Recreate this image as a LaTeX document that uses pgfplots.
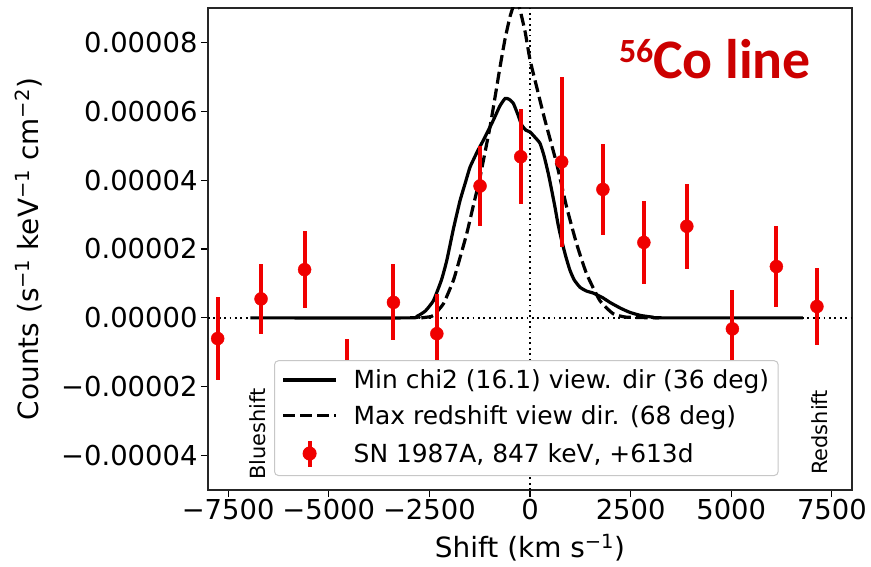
\documentclass[border=0pt]{standalone}
\usepackage{fontspec}
\setmainfont{DejaVu Sans}
\newfontfamily\titlefont{Carlito}
\usepackage{pgfplots}
\pgfplotsset{compat=1.18}
\usetikzlibrary{calc}
\definecolor{mpred}{RGB}{240,0,0}
\definecolor{titlered}{RGB}{204,0,0}
\begin{document}
\begin{tikzpicture}
\begin{axis}[
  name=ax, scale only axis, width=644bp, height=482bp,
  xmin=-8000, xmax=8000, ymin=-5e-5, ymax=9e-5,
  scaled y ticks=false, scaled x ticks=false,
  xtick={-7500,-5000,-2500,0,2500,5000,7500},
  xticklabels={−7500,−5000,−2500,0,2500,5000,7500},
  ytick={-4e-5,-2e-5,0,2e-5,4e-5,6e-5,8e-5},
  yticklabels={−0.00004,−0.00002,0.00000,0.00002,0.00004,0.00006,0.00008},
  tick align=outside, tick pos=left, major tick length=7bp,
  tick style={black, line width=1.1bp},
  axis line style={black!85, line width=1.1bp},
  tick label style={font=\fontsize{27.5}{28}\selectfont},
  xticklabel style={anchor=base, yshift=-22bp},
  label style={font=\fontsize{28}{30}\selectfont},
  xlabel={Shift (km s\textsuperscript{−1})},
  ylabel={Counts (s\textsuperscript{−1} keV\textsuperscript{−1} cm\textsuperscript{−2})},
  xlabel style={at={(axis description cs:0.5,-0.141)}, anchor=base},
  ylabel style={at={(axis description cs:-0.278,0.5)}, anchor=center},
  legend style={at={(0.1025,0.029)}, anchor=south west, draw=black!22, fill=white,
    rounded corners=4bp, line width=1bp, column sep=14bp,
    font=\fontsize{25}{28}\selectfont, row sep=11bp, inner xsep=7bp, inner ysep=7bp},
  legend cell align=left,
  legend image code/.code={\draw[#1] (0bp,0bp) -- (53bp,0bp);},
]
% reference dotted lines
\addplot[forget plot, black, line width=1.8bp, dash pattern=on 1.8bp off 3.6bp] coordinates {(-8000,0) (8000,0)};
\addplot[forget plot, black, line width=1.8bp, dash pattern=on 1.8bp off 3.6bp] coordinates {(0,-5e-5) (0,9e-5)};
% min chi2 model
\addplot[black, line width=3.2bp, smooth, tension=0.3] coordinates {
(-6950,0) (-3000,0) (-2800,0.5e-6) (-2600,2.0e-6) (-2400,5.0e-6) (-2200,1.1e-5)
(-2067,1.67e-5) (-1900,2.6e-5) (-1737,3.41e-5) (-1600,3.95e-5) (-1489,4.38e-5)
(-1300,4.85e-5) (-1158,5.16e-5) (-911,5.74e-5) (-750,6.15e-5) (-620,6.37e-5)
(-520,6.35e-5) (-414,6.23e-5) (-300,5.9e-5) (-206,5.6e-5) (-100,5.45e-5)
(0,5.4e-5) (120,5.25e-5) (248,5.07e-5) (350,4.7e-5) (455,4.19e-5) (540,3.7e-5)
(620,3.22e-5) (700,2.7e-5) (786,2.25e-5) (890,1.78e-5) (993,1.38e-5) (1100,1.1e-5)
(1241,8.9e-6) (1400,7.8e-6) (1571,7.2e-6) (1800,5.9e-6) (1985,4.5e-6) (2250,2.8e-6)
(2481,1.6e-6) (2750,0.7e-6) (3052,0.2e-6) (3300,0) (6780,0)};
\addlegendentry{Min chi2 (16.1) view. dir (36 deg)}
% max redshift model
\addplot[black, line width=3.2bp, dash pattern=on 12bp off 5bp, smooth, tension=0.3] coordinates {
(-2700,0) (-2500,0.3e-6) (-2400,0.7e-6) (-2151,4.1e-6) (-1903,1.09e-5) (-1750,1.7e-5)
(-1571,2.45e-5) (-1400,3.3e-5) (-1241,4.09e-5) (-993,5.55e-5) (-870,6.4e-5)
(-744,7.29e-5) (-620,8.1e-5) (-496,8.75e-5) (-400,9.1e-5) (-330,9.25e-5)
(-248,8.95e-5) (-120,8.3e-5) (0,7.5e-5) (165,6.71e-5) (372,5.74e-5) (662,4.48e-5)
(910,3.22e-5) (1158,2.15e-5) (1406,1.28e-5) (1737,5.0e-6) (2067,1.2e-6)
(2400,0.2e-6) (3200,0)};
\addlegendentry{Max redshift view dir. (68 deg)}
% data
\addplot[only marks, mpred, mark=*, mark size=6.5bp, mark options={fill=mpred, draw=mpred},
  error bars/.cd, y dir=both, y explicit, error mark=none,
  error bar style={line width=4bp, mpred},
  /pgfplots/legend image code/.code={\draw[mpred, line width=4bp] (26.5bp,-13bp) -- (26.5bp,13bp); \fill[mpred] (26.5bp,0bp) circle (6.5bp);}]
table[x=x, y=y, y error=e] {
x y e
-7760 -6.0e-6 1.2e-5
-6682 5.5e-6 1.02e-5
-5600 1.40e-5 1.12e-5
-4541 -1.7e-5 1.1e-5
-3392 4.5e-6 1.1e-5
-2315 -4.6e-6 1.16e-5
-1241 3.83e-5 1.15e-5
-231 4.68e-5 1.38e-5
786 4.53e-5 2.48e-5
1811 3.73e-5 1.33e-5
2829 2.19e-5 1.21e-5
3896 2.66e-5 1.24e-5
5029 -3.2e-6 1.14e-5
6121 1.49e-5 1.17e-5
7129 3.3e-6 1.13e-5
};
\addlegendentry{SN 1987A, 847 keV, +613d}
\node[rotate=90, anchor=west, inner sep=0pt, font=\fontsize{21}{21}\selectfont] at (rel axis cs:0.0776,0.0207) {Blueshift};
\node[rotate=90, anchor=west, inner sep=0pt, font=\fontsize{21}{21}\selectfont] at (rel axis cs:0.950,0.031) {Redshift};
\node[anchor=base west, inner sep=0pt, text=titlered] at (rel axis cs:0.638,0.8527)
  {\titlefont\bfseries\fontsize{34}{34}\selectfont\raisebox{16bp}{56}\fontsize{56}{56}\selectfont Co line};
\end{axis}
\pgfresetboundingbox
\path[use as bounding box] ($(ax.south west)+(-208bp,-76bp)$) rectangle ($(ax.north east)+(19bp,8bp)$);
\end{tikzpicture}
\end{document}
